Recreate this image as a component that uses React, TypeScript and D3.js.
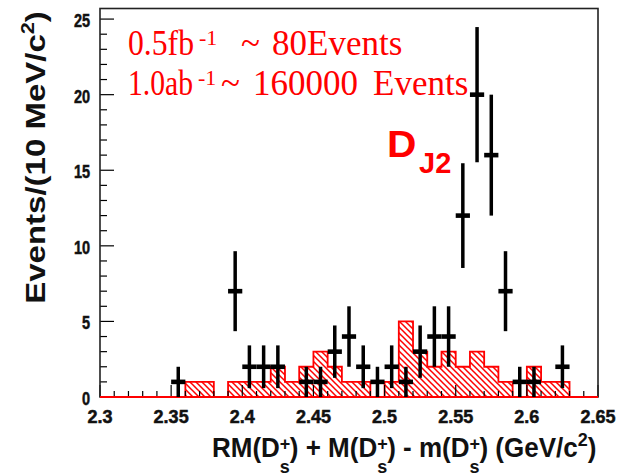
import React from "react";
import * as d3 from "d3";

// Histogram binning (10 MeV/c^2 bins)
const xMin = 2.3;
const xMax = 2.65;
const binWidth = 0.01;

// Background (hatched) histogram contents, one entry per bin from 2.30 to 2.65
const bkgCounts = [
  0, 0, 0, 0, 0, 0, 1, 1, 0, 1,
  1, 1, 2, 1, 2, 3, 2, 1, 1, 0,
  1, 5, 3, 2, 3, 2, 3, 2, 1, 0,
  2, 1, 1, 0, 0,
];

// Data points: bin centres and counts (error = sqrt(N))
const dataMass = [
  2.355, 2.395, 2.405, 2.415, 2.425, 2.445, 2.455, 2.465, 2.475, 2.485,
  2.495, 2.505, 2.515, 2.525, 2.535, 2.545, 2.555, 2.565, 2.575, 2.585,
  2.595, 2.605, 2.625,
];
const dataCounts = [
  1, 7, 2, 2, 2, 1, 1, 3, 4, 2,
  1, 2, 1, 3, 4, 4, 12, 20, 16, 7,
  1, 1, 2,
];

const xTickValues = [2.3, 2.35, 2.4, 2.45, 2.5, 2.55, 2.6, 2.65];
const xTickLabels = ["2.3", "2.35", "2.4", "2.45", "2.5", "2.55", "2.6", "2.65"];
const yTickValues = [0, 5, 10, 15, 20, 25];
const yTickLabels = ["0", "5", "10", "15", "20", "25"];

const W = 625;
const H = 476;
const plot = { left: 100, right: 598, top: 8.5, bottom: 397 };

const sans = "'Liberation Sans', Arial, Helvetica, sans-serif";
const serif = "'Liberation Serif', 'Times New Roman', Times, serif";
const RED = "#ff0000";
const INK = "#111";

export default function App() {
  const x = d3.scaleLinear().domain([xMin, xMax]).range([plot.left, plot.right]);
  const y = d3.scaleLinear().domain([0, 25.7]).range([plot.bottom, plot.top]);

  // step outline of background histogram
  const steps: [number, number][] = bkgCounts.map((c, i) => [xMin + i * binWidth, c]);
  steps.push([xMax, bkgCounts[bkgCounts.length - 1]]);
  const area = d3
    .area<[number, number]>()
    .x((d) => x(d[0]))
    .y0(y(0))
    .y1((d) => y(d[1]))
    .curve(d3.curveStepAfter);
  const line = d3
    .line<[number, number]>()
    .x((d) => x(d[0]))
    .y((d) => y(d[1]))
    .curve(d3.curveStepAfter);

  const xMinor = d3.range(0, 36).map((i) => xMin + i * binWidth);
  const yMinor = d3.range(0, 26);

  // D_s^+ : superscript "+" stacked over subscript "s"
  const supPlusSub = (key: string) => [
    <tspan key={key + "p"} fontSize={18} dy={-7}>+</tspan>,
    <tspan key={key + "s"} fontSize={18} dx={-10.5} dy={22}>s</tspan>,
  ];

  return (
    <div style={{ position: "fixed", left: 0, top: 0 }}>
      <svg width={W} height={H} viewBox={`0 0 ${W} ${H}`} style={{ display: "block", background: "#fff" }}>
        <defs>
          <pattern id="hatch" patternUnits="userSpaceOnUse" width={6} height={6}>
            <rect width={6} height={6} fill="#fff" />
            <path d="M-1,-1 L7,7 M-1,5 L1,7 M5,-1 L7,1" stroke={RED} strokeWidth={1.5} />
          </pattern>
        </defs>

        {/* background histogram */}
        <path d={area(steps) ?? ""} fill="url(#hatch)" />
        <path d={line(steps) ?? ""} fill="none" stroke={RED} strokeWidth={1.8} />

        {/* x ticks */}
        {xMinor.map((v, i) => {
          const major = i % 5 === 0;
          return (
            <line key={"xt" + i} x1={x(v)} x2={x(v)} y1={plot.bottom} y2={plot.bottom - (major ? 12 : 6)}
              stroke="#000" strokeWidth={1.2} />
          );
        })}
        {/* y ticks */}
        {yMinor.map((v) => {
          const major = v % 5 === 0;
          return (
            <line key={"yt" + v} x1={plot.left} x2={plot.left + (major ? 14 : 7)} y1={y(v)} y2={y(v)}
              stroke="#000" strokeWidth={1.2} />
          );
        })}

        {/* frame */}
        <rect x={plot.left} y={plot.top} width={plot.right - plot.left} height={plot.bottom - plot.top}
          fill="none" stroke="#222" strokeWidth={1.6} />
        <line x1={plot.left} x2={plot.right} y1={y(0)} y2={y(0)} stroke={RED} strokeWidth={2} />

        {/* data points with sqrt(N) errors */}
        {dataMass.map((m, i) => {
          const n = dataCounts[i];
          const e = Math.sqrt(n);
          return (
            <g key={"pt" + i}>
              <line x1={x(m)} x2={x(m)} y1={y(Math.max(0, n - e))} y2={y(n + e)} stroke="#000" strokeWidth={3.5} />
              <line x1={x(m - binWidth / 2)} x2={x(m + binWidth / 2)} y1={y(n)} y2={y(n)} stroke="#000" strokeWidth={4.6} />
            </g>
          );
        })}

        {/* tick labels */}
        {xTickValues.map((v, i) => (
          <text key={"xl" + i} x={x(v)} y={423} textAnchor="middle" fontFamily={sans} fontWeight="bold"
            fontSize={18} fill={INK} stroke={INK} strokeWidth={0.5}>{xTickLabels[i]}</text>
        ))}
        {yTickValues.map((v, i) => (
          <text key={"yl" + i} transform={`translate(90,${y(v) + 8}) scale(1,1.25)`} textAnchor="end"
            fontFamily={sans} fontWeight="bold" fontSize={14.5} fill={INK} stroke={INK} strokeWidth={0.4}>
            {yTickLabels[i]}
          </text>
        ))}

        {/* axis titles */}
        <text transform="translate(212,457) scale(1,1.07)" fontFamily={sans} fontWeight="bold" fontSize={26} fill={INK}>
          RM(D{supPlusSub("a")}<tspan fontSize={26} dy={-15}>{") + M(D"}</tspan>
          {supPlusSub("b")}<tspan fontSize={26} dy={-15}>{") - m(D"}</tspan>
          {supPlusSub("c")}<tspan fontSize={26} dy={-15}>{") (GeV/c"}</tspan>
          <tspan fontSize={18} dy={-10}>2</tspan><tspan fontSize={26} dy={10}>)</tspan>
        </text>
        <text transform="translate(45,157.5) rotate(-90) scale(1.2,1)" textAnchor="middle" fontFamily={sans}
          fontWeight="bold" fontSize={27.5} fill={INK}>
          Events/(10 MeV/c<tspan fontSize={18} dy={-11}>2</tspan><tspan dy={11}>)</tspan>
        </text>

        {/* luminosity annotations */}
        <g fontFamily={serif} fill={RED}>
          <text y={55} fontSize={35}>
            <tspan x={128} textLength={66} lengthAdjust="spacingAndGlyphs">0.5fb</tspan>
            <tspan x={199} y={45} fontSize={22}>-1</tspan>
            <tspan x={241} y={55}>~</tspan>
            <tspan x={272}>80Events</tspan>
          </text>
          <text y={95} fontSize={35}>
            <tspan x={128} textLength={65} lengthAdjust="spacingAndGlyphs">1.0ab</tspan>
            <tspan x={198} y={85} fontSize={22}>-1</tspan>
            <tspan x={221} y={95}>~</tspan>
            <tspan x={253}>160000</tspan>
            <tspan x={373}>Events</tspan>
          </text>
        </g>

        {/* resonance label */}
        <g fontFamily={sans} fontWeight="bold" fill={RED}>
          <text transform="translate(387,157) scale(1.1,1)" fontSize={37}>D</text>
          <text x={419} y={173} fontSize={29}>J2</text>
        </g>
      </svg>
    </div>
  );
}
